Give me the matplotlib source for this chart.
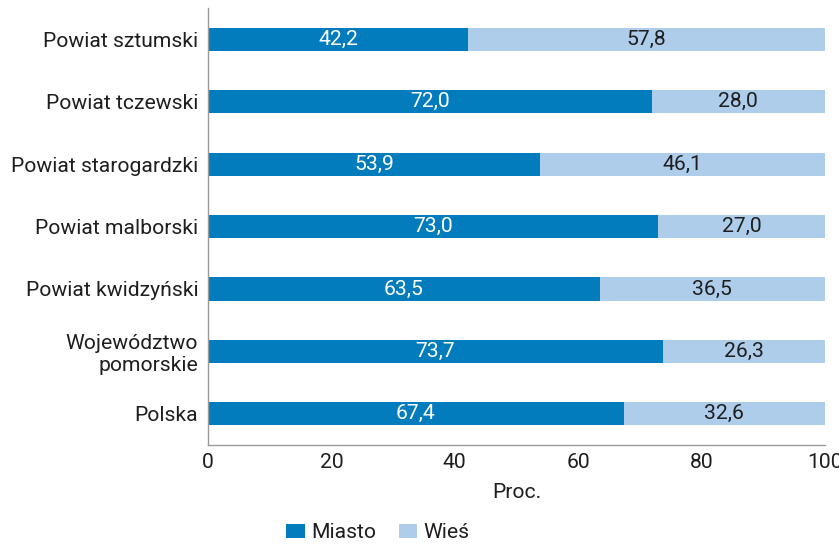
import matplotlib
matplotlib.use("Agg")
import matplotlib.pyplot as plt
from matplotlib.patches import Patch

categories = ["Polska", "Województwo\npomorskie", "Powiat kwidzyński",
              "Powiat malborski", "Powiat starogardzki", "Powiat tczewski",
              "Powiat sztumski"]
miasto = [67.4, 73.7, 63.5, 73.0, 53.9, 72.0, 42.2]
wies = [32.6, 26.3, 36.5, 27.0, 46.1, 28.0, 57.8]
xticks = [0, 20, 40, 60, 80, 100]

c_miasto = "#027cbd"
c_wies = "#aecdeb"
txt = "#1e1e1e"
plt.rcParams["font.family"] = ["Roboto", "DejaVu Sans"]
fs = 15.2

fig = plt.figure(figsize=(8.39, 5.45), dpi=100)
ax = fig.add_axes([0.248, 0.1835, 0.735, 0.8015])

y = list(range(len(categories)))
h = 0.37
ax.barh(y, miasto, height=h, color=c_miasto, edgecolor="none")
ax.barh(y, wies, left=miasto, height=h, color=c_wies, edgecolor="none")

def fmt(v):
    return f"{v:.1f}".replace(".", ",")

for yi, m, w in zip(y, miasto, wies):
    ax.text(m / 2, yi, fmt(m), ha="center", va="center", color="white", fontsize=fs)
    ax.text(m + w / 2, yi, fmt(w), ha="center", va="center", color=txt, fontsize=fs)

ax.set_xlim(0, 100)
ax.set_ylim(-0.5, 6.5)
ax.set_xticks(xticks)
ax.set_xticklabels([str(t) for t in xticks], fontsize=fs, color=txt)
ax.set_yticks(y)
ax.set_yticklabels(categories, fontsize=fs, color=txt)
ax.tick_params(axis="both", length=0)
ax.tick_params(axis="x", pad=6)
ax.tick_params(axis="y", pad=7)
ax.set_xlabel("Proc.", fontsize=fs, color=txt, labelpad=8)

for s in ["top", "right"]:
    ax.spines[s].set_visible(False)
for s in ["left", "bottom"]:
    ax.spines[s].set_color("#999999")
    ax.spines[s].set_linewidth(1.0)

handles = [Patch(facecolor=c_miasto, label="Miasto"), Patch(facecolor=c_wies, label="Wieś")]
fig.legend(handles=handles, loc="lower center", bbox_to_anchor=(0.4505, -0.03), ncol=2,
           frameon=False, fontsize=fs, handlelength=0.87, handleheight=0.63,
           columnspacing=1.1, handletextpad=0.3, labelcolor=txt)

fig.savefig("out.png", dpi=100)
